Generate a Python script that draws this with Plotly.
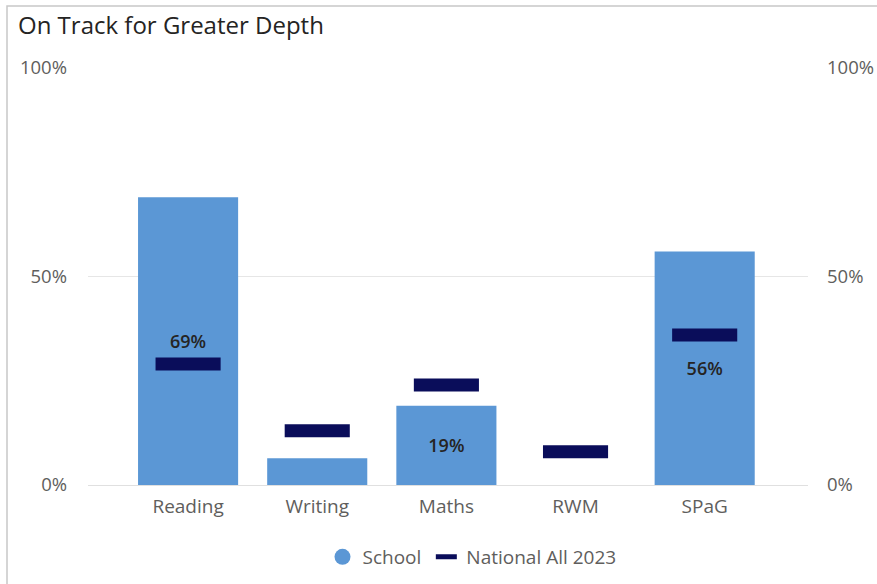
import plotly.graph_objects as go

categories = ["Reading", "Writing", "Maths", "RWM", "SPaG"]
school = [69, 6.4, 19, 0, 56]
national = [29, 13, 24, 8, 36]
y_ticks = [0, 50, 100]
y_ticktext = ["0%", "50%", "100%"]

BAR = "#5B97D5"
NAT = "#0A0D5A"
TXT = "#252423"
AX = "#605E5C"
FONT = "Open Sans"

W, H = 877, 584
ML, MR, MT, MB = 88, 69, 68, 99
PW = W - ML - MR
PH = H - MT - MB

labels = [f"{round(v)}%" if v >= 10 else "" for v in school]

fig = go.Figure()
fig.add_trace(go.Bar(
    x=categories, y=school, name="School", showlegend=False,
    marker=dict(color=BAR, line=dict(width=0)), width=0.775,
    text=labels, textposition="inside", insidetextanchor="middle",
    textangle=0, constraintext="none",
    textfont=dict(family=FONT, size=18, color=TXT, weight=600),
    hoverinfo="skip",
))
fig.add_trace(go.Scatter(
    x=categories, y=national, name="National All 2023", mode="markers",
    marker=dict(symbol="line-ew", size=46.5, color=NAT,
                line=dict(width=13, color=NAT)),
    showlegend=False, hoverinfo="skip",
))
# legend entries
fig.add_trace(go.Scatter(
    x=[None], y=[None], name="School", mode="markers", yaxis="y2",
    marker=dict(symbol="circle", size=16, color=BAR), legendrank=1,
))
fig.add_trace(go.Scatter(
    x=[None], y=[None], name="National All 2023", mode="markers", yaxis="y2",
    marker=dict(symbol="line-ew", size=15, color=NAT, line=dict(width=6, color=NAT)),
    legendrank=2,
))

fig.update_layout(
    width=W, height=H,
    margin=dict(l=ML, r=MR, t=MT, b=MB, pad=0, autoexpand=False),
    paper_bgcolor="white", plot_bgcolor="white",
    font=dict(family=FONT, color=AX, size=18),
    title=dict(text="On Track for Greater Depth", x=18 / W, xref="container",
               xanchor="left", y=1 - 26 / H, yref="container", yanchor="middle",
               font=dict(family=FONT, size=24, color=TXT)),
    xaxis=dict(range=[-0.775, 4.8], showgrid=False, zeroline=False, showline=False,
               ticks="", tickfont=dict(size=19, color=AX), ticklabelstandoff=8,
               fixedrange=True),
    yaxis=dict(range=[0, 100], tickvals=y_ticks, ticktext=y_ticktext,
               showgrid=True, gridcolor="#E6E6E6", gridwidth=1,
               zeroline=True, zerolinecolor="#E0E0E0", zerolinewidth=1,
               showline=False, ticks="", ticklabelstandoff=20,
               tickfont=dict(size=18.5, color=AX)),
    yaxis2=dict(range=[0, 100], tickvals=y_ticks, ticktext=y_ticktext,
                overlaying="y", side="right", showgrid=False, zeroline=False,
                showline=False, ticks="", ticklabelstandoff=18,
                tickfont=dict(size=18.5, color=AX)),
    legend=dict(orientation="h", x=(477 - 5) / W, xref="container", xanchor="center",
                y=1 - 557 / H, yref="container", yanchor="middle",
                font=dict(size=19, color=AX), itemsizing="trace",
                tracegroupgap=0, itemwidth=30),
    bargap=0.225,
    shapes=[dict(type="rect", xref="paper", yref="paper",
                 x0=(7 - ML) / PW, x1=(W + 20 - ML) / PW,
                 y0=-(H + 20 - MT - PH) / PH, y1=(MT + PH - 6) / PH,
                 line=dict(color="#C8C8C8", width=1.5), fillcolor="rgba(0,0,0,0)",
                 layer="above")],
)

fig.write_html("out.html", config={"displayModeBar": False},
               post_script="document.body.style.margin='0';")
